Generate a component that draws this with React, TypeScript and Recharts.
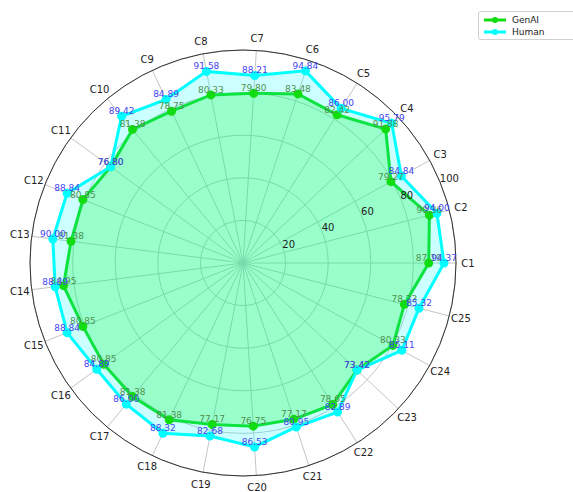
import React from 'react';
import { RadarChart, Radar, PolarGrid, PolarAngleAxis, PolarRadiusAxis, LabelList } from 'recharts';

const categories = ['C1','C2','C3','C4','C5','C6','C7','C8','C9','C10','C11','C12','C13','C14','C15','C16','C17','C18','C19','C20','C21','C22','C23','C24','C25'];
const genAI = [87.19, 90.36, 79.27, 91.88, 82.42, 83.48, 79.80, 80.33, 78.75, 81.38, 76.80, 80.85, 81.38, 84.95, 80.85, 80.85, 81.38, 81.38, 77.17, 76.75, 77.17, 78.65, 73.42, 80.33, 78.23];
const human = [94.37, 94.00, 84.84, 95.79, 86.00, 94.84, 88.21, 91.58, 84.89, 89.42, 76.80, 88.84, 90.00, 88.89, 88.84, 84.89, 86.00, 88.32, 82.68, 86.53, 80.95, 82.89, 73.42, 85.11, 85.32];
const radialTicks = [0, 20, 40, 60, 80, 100];
const seriesNames = ['GenAI', 'Human'];

const data = categories.map((c, i) => ({ cat: c, genAI: genAI[i], human: human[i] }));

const FONT = '"DejaVu Sans", sans-serif';
const GREEN = '#11dd11';
const CYAN = '#00ffff';
const STEP = 360 / categories.length;
const CX = 243;
const CY = 263;
const R = 213;

const AngleTick = (props: any) => {
  const { index, payload } = props;
  const a = (-(index * STEP) * Math.PI) / 180;
  const r = R + 12;
  return (
    <text x={CX + r * Math.cos(a)} y={CY + r * Math.sin(a)} textAnchor="middle" dominantBaseline="central"
      fontSize={10} fill="#222" fontFamily={FONT}>{payload.value}</text>
  );
};

const RadiusTick = (props: any) => {
  const { x, y, payload } = props;
  if (payload.value === 0) return null;
  return (
    <text x={x} y={y + 1} textAnchor="start" fontSize={10} fill="#222" fontFamily={FONT}>{payload.value}</text>
  );
};

const makeLabel = (color: string) => (props: any) => {
  const { x, y, value } = props;
  return (
    <text x={x} y={y - 2} textAnchor="middle" fontSize={9} fill={color} fontFamily={FONT}>{Number(value).toFixed(2)}</text>
  );
};

export default function App() {
  return (
    <div style={{ position: 'absolute', left: 0, top: 0, width: 573, height: 492, background: '#fff', overflow: 'hidden' }}>
      <RadarChart width={573} height={492} data={data} cx={CX} cy={CY} outerRadius={R} startAngle={-STEP} endAngle={360 - STEP}
        margin={{ top: 0, right: 0, bottom: 0, left: 0 }}>
        <PolarGrid gridType="circle" stroke="#c4c4c4" strokeWidth={1} />
        <PolarGrid gridType="circle" polarRadius={[R]} radialLines={false} stroke="#333" strokeWidth={1} />
        <PolarAngleAxis dataKey="cat" tick={<AngleTick />} tickLine={false} axisLine={false} />
        <PolarRadiusAxis angle={22.5} domain={[0, 100]} ticks={radialTicks} tick={<RadiusTick />} axisLine={false} tickLine={false} />
        <Radar name={seriesNames[0]} dataKey="genAI" stroke={GREEN} strokeWidth={3} fill="#00ff00" fillOpacity={0.25}
          dot={{ r: 3, fill: GREEN, stroke: GREEN, fillOpacity: 1 }} isAnimationActive={false}>
          <LabelList dataKey="genAI" content={makeLabel('#4f8f4f')} />
        </Radar>
        <Radar name={seriesNames[1]} dataKey="human" stroke={CYAN} strokeWidth={3} fill={CYAN} fillOpacity={0.2}
          dot={{ r: 3, fill: CYAN, stroke: CYAN, fillOpacity: 1 }} isAnimationActive={false}>
          <LabelList dataKey="human" content={makeLabel('#4545f2')} />
        </Radar>
      </RadarChart>
      <div style={{ position: 'absolute', left: 478, top: 11, width: 110, height: 27, border: '1px solid #d0d0d0', borderRadius: 3, background: '#fff', fontFamily: FONT, fontSize: 9, color: '#222' }}>
        {seriesNames.map((n, i) => (
          <div key={n} style={{ position: 'absolute', left: 5, top: 2 + i * 12, height: 12, display: 'flex', alignItems: 'center' }}>
            <svg width={22} height={10} style={{ marginRight: 6 }}>
              <line x1={0} y1={5} x2={22} y2={5} stroke={i === 0 ? GREEN : CYAN} strokeWidth={3} />
              <circle cx={11} cy={5} r={3} fill={i === 0 ? GREEN : CYAN} />
            </svg>
            <span>{n}</span>
          </div>
        ))}
      </div>
    </div>
  );
}
